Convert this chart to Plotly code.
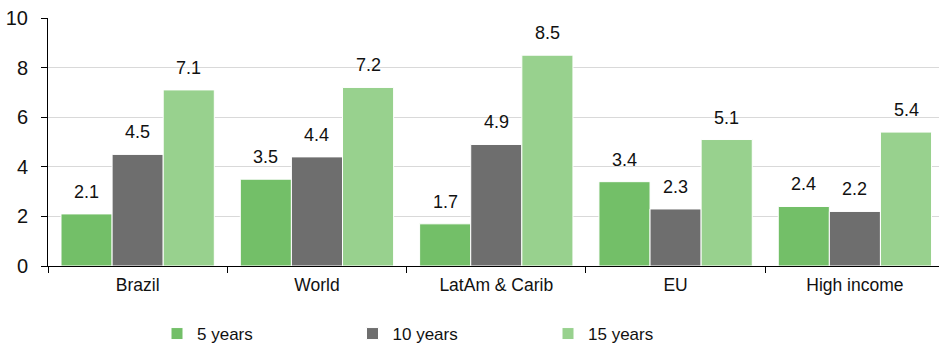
import plotly.graph_objects as go

categories = ["Brazil", "World", "LatAm & Carib", "EU", "High income"]
series_names = ["5 years", "10 years", "15 years"]
five_years = [2.1, 3.5, 1.7, 3.4, 2.4]
ten_years = [4.5, 4.4, 4.9, 2.3, 2.2]
fifteen_years = [7.1, 7.2, 8.5, 5.1, 5.4]
colors = ["#73BF68", "#6E6E6E", "#98D18E"]
y_ticks = [0, 2, 4, 6, 8, 10]

FONT = "Liberation Sans, Arial, sans-serif"
series = [five_years, ten_years, fifteen_years]
bargap = 0.145

fig = go.Figure()
for name, vals, col in zip(series_names, series, colors):
    fig.add_trace(go.Bar(
        name=name, x=categories, y=vals,
        marker=dict(color=col, line=dict(color="white", width=1)),
    ))

# value labels above bars
bw = (1 - bargap) / 3
annotations = []
for k, vals in enumerate(series):
    off = (k - 1) * bw
    for i, v in enumerate(vals):
        annotations.append(dict(
            x=i + off, y=v, xref="x", yref="y", text=f"{v:.1f}",
            showarrow=False, yanchor="middle", yshift=22,
            font=dict(family=FONT, size=18, color="#111"),
        ))

fig.update_layout(
    width=939, height=345,
    margin=dict(l=48, r=0, t=18, b=79),
    barmode="group", bargap=bargap, bargroupgap=0,
    plot_bgcolor="white", paper_bgcolor="white",
    font=dict(family=FONT, size=17, color="#111"),
    annotations=annotations,
    showlegend=True,
    legend=dict(
        orientation="h", xref="container", yref="container",
        x=157 / 939, xanchor="left", y=11 / 345, yanchor="middle",
        entrywidth=150.5, entrywidthmode="pixels",
        font=dict(family=FONT, size=17, color="#111"),
        bgcolor="rgba(0,0,0,0)",
    ),
    xaxis=dict(
        type="category", range=[-0.5, 4.469],
        showline=True, linecolor="#000", linewidth=1,
        ticks="outside", tickson="boundaries", ticklen=6, tickcolor="#000",
        showgrid=False, fixedrange=True, automargin=False,
        ticklabelstandoff=3,
        tickfont=dict(family=FONT, size=17.5, color="#111"),
    ),
    yaxis=dict(
        range=[0, 10], tickvals=y_ticks,
        showline=True, linecolor="#000", linewidth=1,
        ticks="outside", ticklen=6, tickcolor="#000",
        showgrid=True, gridcolor="#D9D9D9", gridwidth=1,
        zeroline=False, ticklabelstandoff=9, automargin=False,
        tickfont=dict(family=FONT, size=20, color="#111"),
    ),
)

fig.write_html("out.html")
